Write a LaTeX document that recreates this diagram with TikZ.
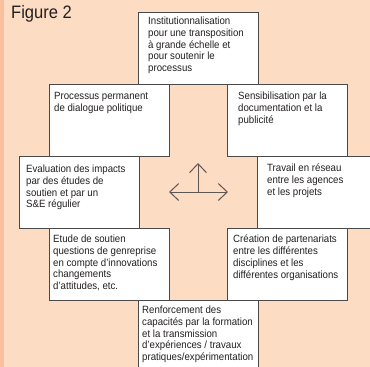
\documentclass[tikz,border=0pt]{standalone}
\usepackage{fontspec}
\setmainfont{Liberation Sans}[FakeStretch=0.92]
\usetikzlibrary{arrows.meta,positioning}
\definecolor{peach}{HTML}{FDDCC4}
\definecolor{stripe}{HTML}{F9C09E}
\definecolor{boxline}{HTML}{4A4A4A}
\definecolor{inktext}{HTML}{231F20}
\definecolor{crossline}{HTML}{5E5650}
\tikzset{
    box/.style ={draw=boxline, fill=white, line width=0.9pt, anchor=north west,
        minimum width=120pt, minimum height=72pt, inner sep=0pt},
    txt/.style ={anchor=north west, align=left, inner sep=0pt,
        execute at begin node={\rule{0pt}{8pt}},
        text=inktext, font=\fontsize{10.5pt}{11.7pt}\selectfont},
    cross/.style={-{Straight Barb[length=9pt,width=17pt]}, draw=crossline, line width=1pt}
}
\begin{document}
\begin{tikzpicture}[x=1pt,y=1pt]

    \useasboundingbox (0,0) rectangle (370,-367);
    \fill[peach] (0,0) rectangle (370,-367);
    \fill[stripe] (0,0) rectangle (4,-367);
    \clip (0,0) rectangle (370,-367);

    \node[anchor=base west, inner sep=0pt, text=inktext,
        font=\fontsize{18pt}{20pt}\selectfont] (fig) at (11,-18) {Figure 2};

    % boxes, top to bottom
    \node[box] (inst) at (138,-12) {};
    \node[txt] (instT) [below right=5pt and 10pt of inst.north west]
        {Institutionnalisation\\pour une transposition\\à grande échelle et\\pour soutenir le\\processus};

    \node[box] (dial) at (49,-84) {};
    \node[txt] (dialT) [below right=8pt and 5pt of dial.north west]
        {Processus permanent\\de dialogue politique};

    \node[box] (sens) at (227,-84) {};
    \node[txt] (sensT) [below right=8pt and 11pt of sens.north west]
        {Sensibilisation par la\\documentation et la\\publicité};

    \node[box] (eval) at (19,-156) {};
    \node[txt] (evalT) [below right=9pt and 7pt of eval.north west]
        {Evaluation des impacts\\par des études de\\soutien et par un\\S\&E régulier};

    \node[box] (reseau) at (257,-156) {};
    \node[txt] (reseauT) [below right=8pt and 10pt of reseau.north west]
        {Travail en réseau\\entre les agences\\et les projets};

    \node[box] (etude) at (49,-228) {};
    \node[txt] (etudeT) [below right=7pt and 4pt of etude.north west]
        {Etude de soutien\\questions de genreprise\\en compte d’innovations\\changements\\d’attitudes, etc.};

    \node[box] (part) at (227,-228) {};
    \node[txt] (partT) [below right=7pt and 6pt of part.north west]
        {Création de partenariats\\entre les différentes\\disciplines et les\\différentes organisations};

    \node[box] (renf) at (138,-300) {};
    \node[txt] (renfT) [below right=6pt and 4pt of renf.north west]
        {Renforcement des\\capacités par la formation\\et la transmission\\d’expériences / travaux\\pratiques/expérimentation};

    % arrows in the middle
    \coordinate (hub) at (198,-192);
    \coordinate (hubW) at (169,-192);
    \coordinate (hubE) at (228,-192);
    \coordinate (hubN) at (198,-163);
    \draw[cross] (hub) -- (hubW);
    \draw[cross] (hub) -- (hubE);
    \draw[cross] (hub) -- (hubN);

\end{tikzpicture}
\end{document}
